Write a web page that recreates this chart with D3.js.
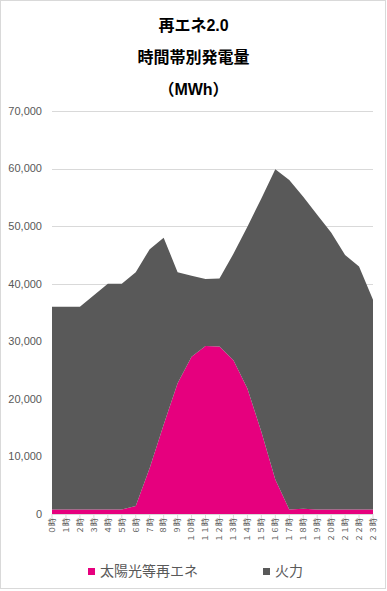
<!DOCTYPE html>
<html><head><meta charset="utf-8">
<script src="https://cdn.jsdelivr.net/npm/d3@7"></script>
<style>
html,body{margin:0;padding:0;background:#fff;}
svg{display:block;}
</style>
</head><body>
<script>
const hours = ["０時","１時","２時","３時","４時","５時","６時","７時","８時","９時","１０時","１１時","１２時","１３時","１４時","１５時","１６時","１７時","１８時","１９時","２０時","２１時","２２時","２３時"];
const solar = [800,800,800,800,800,800,1400,8000,15500,22700,27300,29200,29100,26700,21800,14300,6000,800,900,800,800,800,800,800];
const thermal = [35200,35200,35200,37200,39200,39200,40600,38000,32500,19300,14100,11600,11800,18500,28100,40500,53900,57200,54200,51200,48100,44200,42200,36400];
const seriesNames = ["太陽光等再エネ","火力"];
const yTicks = [0,10000,20000,30000,40000,50000,60000,70000];
const titleLines = ["再エネ2.0","時間帯別発電量","（MWh）"];
const colors = ["#E6007E","#595959"];

const W = 387, H = 591;
const font = "'Liberation Sans','Noto Sans CJK JP',sans-serif";
const svg = d3.select("body").append("svg").attr("width",W).attr("height",H);

svg.append("rect").attr("x",0.5).attr("y",0.5).attr("width",385).attr("height",588)
  .attr("fill","#fff").attr("stroke","#d9d9d9").attr("stroke-width",1);

const x = d3.scalePoint().domain(hours).range([52,373]);
const y = d3.scaleLinear().domain([0,70000]).range([514,111]);

// title
svg.append("g").selectAll("text").data(titleLines).join("text")
  .attr("x",193.5).attr("y",(d,i)=>31+i*32)
  .attr("text-anchor","middle").attr("font-family",font).attr("font-weight","bold")
  .attr("font-size",16).attr("fill","#000").text(d=>d);

// gridlines
svg.append("g").selectAll("line").data(yTicks.filter(t=>t>0)).join("line")
  .attr("x1",52).attr("x2",373).attr("y1",d=>Math.round(y(d))+0.5).attr("y2",d=>Math.round(y(d))+0.5)
  .attr("stroke","#d9d9d9").attr("stroke-width",1);

// y labels
svg.append("g").selectAll("text").data(yTicks).join("text")
  .attr("x",42).attr("y",d=>y(d)).attr("dy","0.35em").attr("text-anchor","end")
  .attr("font-family",font).attr("font-size",11).attr("fill","#595959")
  .text(d=>d3.format(",")(d));

// stacked areas
const data = hours.map((h,i)=>({h, s:solar[i], t:thermal[i]}));
const stack = d3.stack().keys(["s","t"])(data);
const area = d3.area().x(d=>x(d.data.h)).y0(d=>y(d[0])).y1(d=>y(d[1]));
svg.append("g").selectAll("path").data(stack).join("path")
  .attr("d",area).attr("fill",(d,i)=>colors[i]);

// x axis
const xa = svg.append("g").attr("transform","translate(0,514)");
xa.append("line").attr("x1",52).attr("x2",373).attr("y1",0.5).attr("y2",0.5).attr("stroke","#d9d9d9");
xa.selectAll("line.tk").data(hours).join("line").attr("class","tk")
  .attr("x1",d=>x(d)).attr("x2",d=>x(d)).attr("y1",0).attr("y2",4).attr("stroke","#d9d9d9");
xa.selectAll("text").data(hours).join("text")
  .attr("transform",d=>`translate(${x(d)},4) rotate(-90)`)
  .attr("text-anchor","end").attr("dy","0.35em")
  .attr("font-family",font).attr("font-size",8).attr("fill","#595959")
  .text(d=>d);

// legend
const leg = svg.append("g");
const legX = [88,263];
seriesNames.forEach((n,i)=>{
  leg.append("rect").attr("x",legX[i]).attr("y",568).attr("width",7).attr("height",7).attr("fill",colors[i]);
  leg.append("text").attr("x",legX[i]+12).attr("y",571.5).attr("dy","0.35em")
    .attr("font-family",font).attr("font-size",14).attr("fill","#595959").text(n);
});
</script>
</body></html>
